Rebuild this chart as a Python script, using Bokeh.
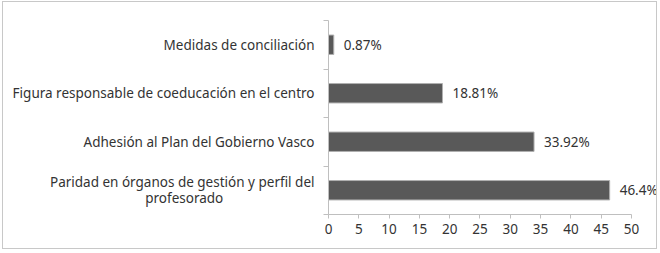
from bokeh.plotting import figure
from bokeh.models import FixedTicker, ColumnDataSource, LabelSet
from bokeh.core.properties import value
from bokeh.embed import file_html
from bokeh.resources import INLINE

NBSP = "\u00a0"
categories = [
    "Paridad en órganos de gestión y perfil del\nprofesorado",
    "Adhesión al Plan del Gobierno Vasco",
    "Figura responsable de coeducación en el centro",
    "Medidas de conciliación",
]
values = [46.4, 33.92, 18.81, 0.87]
value_labels = ["46.4%", "33.92%", "18.81%", "0.87%"]
x_ticks = [0, 5, 10, 15, 20, 25, 30, 35, 40, 45, 50]

FONT = "Noto Sans"
FS = "13.5px"
pos = [i + 1 for i in range(len(categories))]
src = ColumnDataSource(dict(y=pos, v=values, lab=value_labels))


def centered(label):
    # pad the shorter lines with no-break spaces so that each line is centred
    lines = label.split("\n")
    if len(lines) == 1:
        return label
    longest = max(len(l) for l in lines)
    out = [lines[0]]
    for l in lines[1:]:
        pad = int((longest - len(l)) * 0.85)
        out.append(l + NBSP * pad)
    return "\n".join(out)


p = figure(width=655, height=248, x_range=(0, 54.46), y_range=(0.5, len(categories) + 0.5),
           output_backend="svg", toolbar_location=None,
           min_border_left=325, min_border_right=0, min_border_top=18, min_border_bottom=36)
p.styles = {"border": "1px solid #c8c8c8", "margin-left": "2px", "margin-top": "1px"}
p.outline_line_color = None
p.xgrid.visible = False
p.ygrid.visible = False

p.hbar(y="y", right="v", left=0, height=0.4, source=src,
       fill_color="#595959", line_color="#b0b0b0", line_width=1)
p.add_layout(LabelSet(x="v", y="y", text="lab", source=src, x_offset=10, text_baseline="middle",
                      text_align="left", text_font=value(FONT), text_font_size=value(FS),
                      text_color="#333333"))

p.xaxis.ticker = FixedTicker(ticks=x_ticks)
p.xaxis.bounds = (0, 50)
p.xaxis.axis_line_color = "#bfbfbf"
p.xaxis.major_tick_line_color = "#bfbfbf"
p.xaxis.major_tick_in = 0
p.xaxis.major_tick_out = 4
p.xaxis.minor_tick_line_color = None
p.xaxis.major_label_text_font = FONT
p.xaxis.major_label_text_font_size = FS
p.xaxis.major_label_text_color = "#333333"
p.xaxis.major_label_standoff = 5

p.yaxis.ticker = FixedTicker(ticks=pos, minor_ticks=[i + 0.5 for i in range(len(categories) + 1)])
p.yaxis.major_label_overrides = {i + 1: centered(c) for i, c in enumerate(categories)}
p.yaxis.axis_line_color = "#bfbfbf"
p.yaxis.major_tick_line_color = None
p.yaxis.minor_tick_line_color = "#bfbfbf"
p.yaxis.minor_tick_in = 0
p.yaxis.minor_tick_out = 5
p.yaxis.major_label_text_font = FONT
p.yaxis.major_label_text_font_size = FS
p.yaxis.major_label_text_color = "#333333"
p.yaxis.major_label_text_line_height = 0.9
p.yaxis.major_label_standoff = 8

open("out.html", "w").write(file_html(p, INLINE))
